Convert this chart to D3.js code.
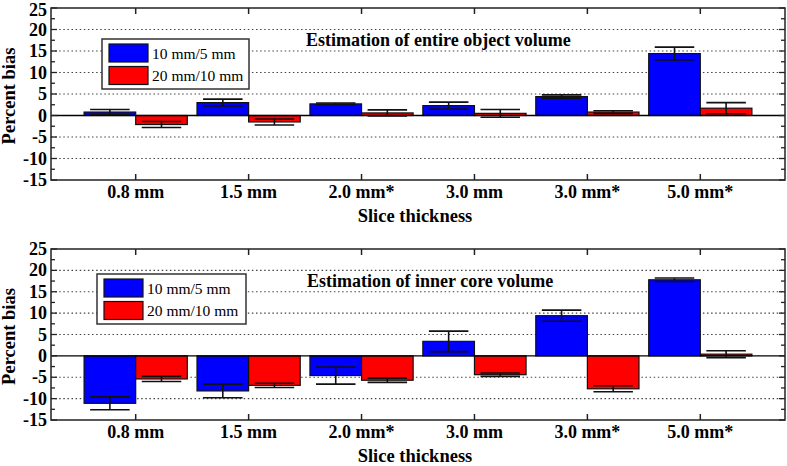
<!DOCTYPE html>
<html>
<head>
<meta charset="utf-8">
<script src="https://cdn.jsdelivr.net/npm/d3@7"></script>
<style>
  html, body { margin: 0; padding: 0; background: #fff; }
  svg { display: block; }
  text { font-family: "Liberation Serif", "Times New Roman", serif; }
</style>
</head>
<body>
<svg id="chart" width="787" height="466"></svg>
<script>
// ---- Data ----
const categories = ["0.8 mm", "1.5 mm", "2.0 mm*", "3.0 mm", "3.0 mm*", "5.0 mm*"];
const seriesNames = ["10 mm/5 mm", "20 mm/10 mm"];
const yTicks = [-15, -10, -5, 0, 5, 10, 15, 20, 25];

// Panel 1: Estimation of entire object volume
const entireBlue    = [0.8, 3.0, 2.7, 2.3, 4.4, 14.4];
const entireBlueErr = [0.6, 0.8, 0.2, 0.8, 0.4, 1.5];
const entireRed     = [-2.1, -1.5, 0.6, 0.5, 0.8, 1.7];
const entireRedErr  = [0.7, 0.7, 0.7, 0.9, 0.3, 1.3];

// Panel 2: Estimation of inner core volume
const coreBlue    = [-11.1, -8.2, -4.6, 3.4, 9.4, 17.8];
const coreBlueErr = [1.5, 1.6, 2.0, 2.4, 1.3, 0.4];
const coreRed     = [-5.4, -6.9, -5.7, -4.4, -7.7, 0.4];
const coreRedErr  = [0.6, 0.5, 0.5, 0.4, 0.7, 0.8];

const colors = ["#0000ff", "#ff0000"];

const svg = d3.select("#chart");
const left = 51, right = 785;

const x = d3.scaleLinear().domain([0.25, categories.length + 0.75]).range([left, right]);
const barW = 0.457;
const offsets = [-0.2285, 0.2285];
const capW = 0.35;

function panel(cfg) {
  const y = d3.scaleLinear().domain([-15, 25]).range([cfg.bottom, cfg.top]);
  const g = svg.append("g");

  // dotted grid
  g.selectAll("line.grid").data(yTicks.filter(t => t !== 0 && t !== 25 && t !== -15))
    .enter().append("line")
    .attr("x1", left).attr("x2", right)
    .attr("y1", d => y(d)).attr("y2", d => y(d))
    .attr("stroke", "#444").attr("stroke-width", 1.2)
    .attr("stroke-dasharray", "1.5,2.6");

  // bars
  const series = [
    {vals: cfg.blue, errs: cfg.blueErr, color: colors[0], off: offsets[0]},
    {vals: cfg.red, errs: cfg.redErr, color: colors[1], off: offsets[1]}
  ];
  series.forEach(s => {
    g.selectAll(null).data(s.vals).enter().append("rect")
      .attr("x", (d, i) => x(i + 1 + s.off - barW / 2))
      .attr("width", x(barW) - x(0))
      .attr("y", d => y(Math.max(0, d)))
      .attr("height", d => Math.abs(y(d) - y(0)))
      .attr("fill", s.color)
      .attr("stroke", "#111").attr("stroke-width", 1.2);
  });

  // zero line
  g.append("line").attr("x1", left).attr("x2", right)
    .attr("y1", y(0)).attr("y2", y(0))
    .attr("stroke", "#000").attr("stroke-width", 1.3);

  // error bars
  series.forEach(s => {
    s.vals.forEach((v, i) => {
      const cx = x(i + 1 + s.off);
      const e = s.errs[i];
      const eg = g.append("g").attr("stroke", "#111").attr("stroke-width", 1.6);
      eg.append("line").attr("x1", cx).attr("x2", cx).attr("y1", y(v - e)).attr("y2", y(v + e));
      [v - e, v + e].forEach(yy => {
        eg.append("line")
          .attr("x1", x(i + 1 + s.off - capW / 2)).attr("x2", x(i + 1 + s.off + capW / 2))
          .attr("y1", y(yy)).attr("y2", y(yy));
      });
    });
  });

  // frame
  g.append("rect").attr("x", left).attr("y", cfg.top)
    .attr("width", right - left).attr("height", cfg.bottom - cfg.top)
    .attr("fill", "none").attr("stroke", "#222").attr("stroke-width", 1.5);

  // y ticks (major + minor) on left and right
  const minor = d3.range(-15, 25.01, 2.5);
  minor.forEach(t => {
    const isMajor = Math.abs(t % 5) < 1e-9;
    const len = isMajor ? 6 : 4;
    g.append("line").attr("x1", left).attr("x2", left + len)
      .attr("y1", y(t)).attr("y2", y(t)).attr("stroke", "#222").attr("stroke-width", 1.3);
    g.append("line").attr("x1", right).attr("x2", right - len)
      .attr("y1", y(t)).attr("y2", y(t)).attr("stroke", "#222").attr("stroke-width", 1.3);
  });
  // x ticks top and bottom
  categories.forEach((c, i) => {
    g.append("line").attr("x1", x(i + 1)).attr("x2", x(i + 1))
      .attr("y1", cfg.top).attr("y2", cfg.top + 6).attr("stroke", "#222").attr("stroke-width", 1.5);
    g.append("line").attr("x1", x(i + 1)).attr("x2", x(i + 1))
      .attr("y1", cfg.bottom).attr("y2", cfg.bottom - 6).attr("stroke", "#222").attr("stroke-width", 1.5);
  });

  // y tick labels
  g.selectAll("text.yt").data(yTicks).enter().append("text")
    .attr("x", 47).attr("y", d => y(d) + (d === 25 && cfg.top < 16 ? 8 : 6))
    .attr("text-anchor", "end")
    .attr("font-size", 18).attr("font-weight", "bold")
    .text(d => d);

  // x tick labels
  g.selectAll("text.xt").data(categories).enter().append("text")
    .attr("x", (d, i) => x(i + 1)).attr("y", cfg.bottom + 18)
    .attr("text-anchor", "middle")
    .attr("font-size", 18).attr("font-weight", "bold")
    .text(d => d);

  // axis titles
  g.append("text").attr("x", 415).attr("y", cfg.bottom + 42)
    .attr("text-anchor", "middle").attr("font-size", 18.5).attr("font-weight", "bold")
    .text("Slice thickness");
  g.append("text")
    .attr("transform", `translate(15,${(cfg.top + cfg.bottom) / 2 + 2}) rotate(-90)`)
    .attr("text-anchor", "middle").attr("font-size", 18.5).attr("font-weight", "bold")
    .text("Percent bias");

  // panel title
  g.append("text").attr("x", cfg.titleX).attr("y", cfg.titleY)
    .attr("font-size", 18).attr("font-weight", "bold")
    .text(cfg.title);

  // legend
  const L = cfg.legend;
  g.append("rect").attr("x", L.x).attr("y", L.y).attr("width", L.w).attr("height", L.h)
    .attr("fill", "#fff").attr("stroke", "#333").attr("stroke-width", 1.5);
  seriesNames.forEach((n, k) => {
    const sy = L.y + 5 + k * 22.5;
    g.append("rect").attr("x", L.x + 7).attr("y", sy).attr("width", 39).attr("height", 18)
      .attr("fill", colors[k]).attr("stroke", "#111").attr("stroke-width", 1.2);
    g.append("text").attr("x", L.x + 50).attr("y", sy + 14.5)
      .attr("font-size", 15.5).text(n);
  });
}

panel({
  top: 8, bottom: 180,
  blue: entireBlue, blueErr: entireBlueErr, red: entireRed, redErr: entireRedErr,
  title: "Estimation of entire object volume", titleX: 306, titleY: 46,
  legend: {x: 102, y: 39, w: 147, h: 50}
});
panel({
  top: 249, bottom: 420,
  blue: coreBlue, blueErr: coreBlueErr, red: coreRed, redErr: coreRedErr,
  title: "Estimation of inner core volume", titleX: 307, titleY: 287,
  legend: {x: 97, y: 274, w: 149, h: 50}
});
</script>
</body>
</html>
